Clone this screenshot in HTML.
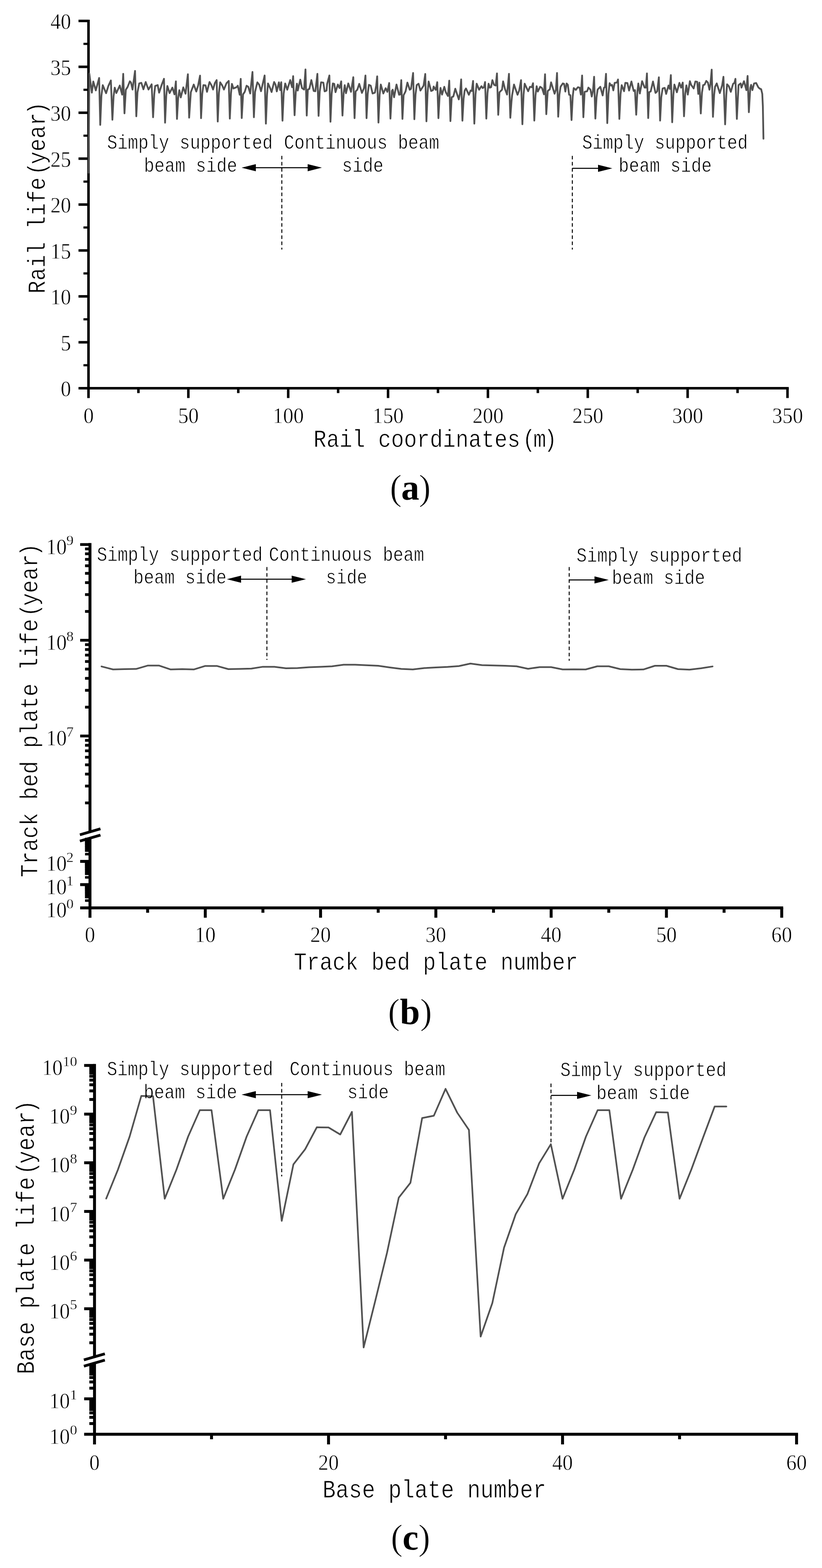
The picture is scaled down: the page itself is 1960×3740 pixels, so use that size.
<!DOCTYPE html>
<html lang="en">
<head>
<meta charset="utf-8">
<title>Fatigue life of rail, track bed plate and base plate</title>
<style>
html,body{margin:0;padding:0;background:#fff;}
body{width:1960px;height:3740px;overflow:hidden;}
svg{display:block;}
svg text{font-family:'Liberation Mono','DejaVu Sans Mono',monospace;fill:#000;stroke:#fff;stroke-width:1px;mix-blend-mode:multiply;}
svg text.n{font-family:'Liberation Serif','DejaVu Serif',serif;stroke-width:0.8px;}
svg text.s{stroke-width:0.4px;}
svg text.cap{stroke:#fff;stroke-width:1.2px;font-family:'Liberation Serif','DejaVu Serif',serif;}
svg text.cap .b{font-weight:bold;stroke:none;}
</style>
</head>
<body>
<svg width="1960" height="3740" viewBox="0 0 1960 3740">
<rect width="1960" height="3740" fill="#fff"/>
<g id="chart-a">
<line x1="211" y1="46.9" x2="211" y2="949.4" stroke="#000" stroke-width="6"/>
<line x1="187.2" y1="925.9" x2="1880.7" y2="925.9" stroke="#000" stroke-width="6"/>
<line x1="199" y1="871.15" x2="211" y2="871.15" stroke="#000" stroke-width="5.2"/>
<line x1="187.2" y1="816.4" x2="211" y2="816.4" stroke="#000" stroke-width="6"/>
<line x1="199" y1="761.65" x2="211" y2="761.65" stroke="#000" stroke-width="5.2"/>
<line x1="187.2" y1="706.9" x2="211" y2="706.9" stroke="#000" stroke-width="6"/>
<line x1="199" y1="652.15" x2="211" y2="652.15" stroke="#000" stroke-width="5.2"/>
<line x1="187.2" y1="597.4" x2="211" y2="597.4" stroke="#000" stroke-width="6"/>
<line x1="199" y1="542.65" x2="211" y2="542.65" stroke="#000" stroke-width="5.2"/>
<line x1="187.2" y1="487.9" x2="211" y2="487.9" stroke="#000" stroke-width="6"/>
<line x1="199" y1="433.15" x2="211" y2="433.15" stroke="#000" stroke-width="5.2"/>
<line x1="187.2" y1="378.4" x2="211" y2="378.4" stroke="#000" stroke-width="6"/>
<line x1="199" y1="323.65" x2="211" y2="323.65" stroke="#000" stroke-width="5.2"/>
<line x1="187.2" y1="268.9" x2="211" y2="268.9" stroke="#000" stroke-width="6"/>
<line x1="199" y1="214.15" x2="211" y2="214.15" stroke="#000" stroke-width="5.2"/>
<line x1="187.2" y1="159.4" x2="211" y2="159.4" stroke="#000" stroke-width="6"/>
<line x1="199" y1="104.65" x2="211" y2="104.65" stroke="#000" stroke-width="5.2"/>
<line x1="187.2" y1="49.9" x2="211" y2="49.9" stroke="#000" stroke-width="6"/>
<line x1="330.05" y1="925.9" x2="330.05" y2="937.6" stroke="#000" stroke-width="6"/>
<line x1="449.1" y1="925.9" x2="449.1" y2="949.4" stroke="#000" stroke-width="6"/>
<line x1="568.15" y1="925.9" x2="568.15" y2="937.6" stroke="#000" stroke-width="6"/>
<line x1="687.2" y1="925.9" x2="687.2" y2="949.4" stroke="#000" stroke-width="6"/>
<line x1="806.25" y1="925.9" x2="806.25" y2="937.6" stroke="#000" stroke-width="6"/>
<line x1="925.3" y1="925.9" x2="925.3" y2="949.4" stroke="#000" stroke-width="6"/>
<line x1="1044.35" y1="925.9" x2="1044.35" y2="937.6" stroke="#000" stroke-width="6"/>
<line x1="1163.4" y1="925.9" x2="1163.4" y2="949.4" stroke="#000" stroke-width="6"/>
<line x1="1282.45" y1="925.9" x2="1282.45" y2="937.6" stroke="#000" stroke-width="6"/>
<line x1="1401.5" y1="925.9" x2="1401.5" y2="949.4" stroke="#000" stroke-width="6"/>
<line x1="1520.55" y1="925.9" x2="1520.55" y2="937.6" stroke="#000" stroke-width="6"/>
<line x1="1639.6" y1="925.9" x2="1639.6" y2="949.4" stroke="#000" stroke-width="6"/>
<line x1="1758.65" y1="925.9" x2="1758.65" y2="937.6" stroke="#000" stroke-width="6"/>
<line x1="1877.7" y1="925.9" x2="1877.7" y2="949.4" stroke="#000" stroke-width="6"/>
<text class="n" transform="translate(169.5 945.1) scale(0.93 1)" font-size="53" text-anchor="end">0</text>
<text class="n" transform="translate(169.5 835.6) scale(0.93 1)" font-size="53" text-anchor="end">5</text>
<text class="n" transform="translate(169.5 726.1) scale(0.93 1)" font-size="53" text-anchor="end">10</text>
<text class="n" transform="translate(169.5 616.6) scale(0.93 1)" font-size="53" text-anchor="end">15</text>
<text class="n" transform="translate(169.5 507.1) scale(0.93 1)" font-size="53" text-anchor="end">20</text>
<text class="n" transform="translate(169.5 397.6) scale(0.93 1)" font-size="53" text-anchor="end">25</text>
<text class="n" transform="translate(169.5 288.1) scale(0.93 1)" font-size="53" text-anchor="end">30</text>
<text class="n" transform="translate(169.5 178.6) scale(0.93 1)" font-size="53" text-anchor="end">35</text>
<text class="n" transform="translate(169.5 69.1) scale(0.93 1)" font-size="53" text-anchor="end">40</text>
<text class="n" transform="translate(211.2 1009.4) scale(0.93 1)" font-size="53" text-anchor="middle">0</text>
<text class="n" transform="translate(449.3 1009.4) scale(0.93 1)" font-size="53" text-anchor="middle">50</text>
<text class="n" transform="translate(687.4 1009.4) scale(0.93 1)" font-size="53" text-anchor="middle">100</text>
<text class="n" transform="translate(925.5 1009.4) scale(0.93 1)" font-size="53" text-anchor="middle">150</text>
<text class="n" transform="translate(1163.6 1009.4) scale(0.93 1)" font-size="53" text-anchor="middle">200</text>
<text class="n" transform="translate(1401.7 1009.4) scale(0.93 1)" font-size="53" text-anchor="middle">250</text>
<text class="n" transform="translate(1639.8 1009.4) scale(0.93 1)" font-size="53" text-anchor="middle">300</text>
<text class="n" transform="translate(1877.9 1009.4) scale(0.93 1)" font-size="53" text-anchor="middle">350</text>
<text transform="translate(747.6 1066.4) scale(0.8556 1)" font-size="60" dx="0 0 0 0 0 0 0 0 0 0 0 0 0 0 0 0 6.08 -6.08 -5.84">Rail coordinates(m)</text>
<text transform="translate(107 700.2) rotate(-90) scale(0.8556 1)" font-size="60" dx="0 0 0 0 0 0 0 0 0 6.08 -6.08 0 0 0 -5.84">Rail life(year)</text>
<polyline points="211.3,412 213,175.6 219,221 222.4,194.4 228.4,215.6 236.4,186 239,298 241.8,228.7 245,203 253,222.4 258.4,205 264.4,192 268,285.6 270.8,229.7 273.6,209 277.4,222 285.6,204 291.2,225.6 293.8,176 296.8,270.4 300,214 304,208 309.6,194 312.4,197 316,213.6 322,169 325,277.4 327.8,220.2 332,199 337,197.6 342,213 347.4,195.6 354,213.6 361.6,201 365,279.6 367.8,225.1 370,205 376,203 379.4,221 386,201 391,188 393.6,292.6 396.4,228.7 399,205 404.4,222 411,209 416,225 419.4,194 422,283.6 424.8,233.5 427.6,215 431,232.4 437,208.4 442.4,223.6 448,177 451,280.6 455,220 462,201.6 468,218.4 472.4,204 477,180.4 479.4,282 482.2,224.3 485,203 490,203.6 493.6,219 499.6,195.6 504,203 508,213.6 512.4,198 516.6,191 519.2,290 522,221.7 525,196.4 530,204 534,213.6 540,198.4 545.4,193 548,283 550.8,222.4 553,200 556.6,211 564,208 567,204.4 571.6,226 574,188 576.4,281.6 579.6,225 583.6,219 588,204.4 592,207 596.6,223 602,171.6 605.4,279.6 608.2,218.9 613.6,196.4 618,202 622.4,217.6 631,180 634,295 636.8,224.9 639,199 643.6,209 647.6,219.6 653.6,195.6 657,202 660,218 665,196.4 668,215 670.6,196 673.6,288 676.4,223 680,199 685,214 692,191 696.4,208 699,181.6 702.4,275 705.2,220 708,199.6 710,216 716,190 720,210 725,213.6 728.4,165.6 731.4,275.6 734,213.6 737.6,212 742.4,191 748,217 752,217.6 756.8,176 759.6,276.4 762.4,218 765.6,196.4 771,197 774,218 778.6,216 780,200.4 785.4,180 788,290.4 790.8,223.7 793.6,199 797,200 800,220 805.6,201.6 809.6,210 813.6,194 816.6,275.6 819.4,222.6 822,203 825,222.4 830.4,199 837,219 842.4,184 845.4,282 848,218 852,214 856.6,200 863,221.6 868,210 871.4,180 874,282 876.8,223.9 879.6,202.4 884,204.4 888.4,223 894,221 897,204 899.4,182 902.4,292.4 905.2,226.1 908,201.6 914,223 919.6,210.4 923.6,219 928,198 931,283 934.4,217 936.4,214 939.6,232 945.4,201.6 951.6,226 954.4,225 956.8,191 959.6,283.6 962.4,227 967,218 971.4,197 977,214 980,212 985,174 988,284.4 990.8,225 993.6,203 998,199.6 1002.4,216 1010,204.4 1014,176.4 1016.8,289.4 1019.6,220.1 1022,194.4 1028,217 1032.4,215 1034,206.4 1039,214.4 1042.6,196 1045.4,282 1048.2,229.1 1050.4,209.6 1054,225.6 1059.4,207 1063,220 1068,229 1071.2,192.4 1074,289 1077,232 1081,230 1085.6,211.6 1094,237 1097,222 1099.6,189.4 1102.6,288 1105.4,235.4 1108,216 1111,211 1118,226 1122,216 1125,217 1128,193 1131,295 1133.8,225.4 1136.6,199.6 1142.4,214 1148,205.6 1151,210 1154,208 1156.6,195.6 1159.6,283 1162.4,222.1 1165,199.6 1168,209 1171,208 1174,191 1178,202.4 1182,204 1185,175 1188,274 1191,220 1197,214 1199.6,194 1204,212 1209,225.6 1213.6,176 1216.8,281 1219.6,242.3 1221,228 1225.6,201.6 1234,226 1238,216 1242.4,191 1245.6,296.4 1248.4,225.7 1251,199.6 1259.4,217.6 1263.6,207 1268,208 1271,198.4 1274,287.6 1276.8,227.7 1279.6,205.6 1282.4,218.4 1288,207 1292.4,210 1297,225 1299.6,177 1302.6,272.4 1306,217 1311,213 1314,196.4 1322.4,223.6 1325.6,213.6 1328.2,174 1331,278.4 1333.8,226.3 1336.6,207 1342,199 1345,200 1348,218.4 1351,199 1354,202.4 1357,226 1360,227 1362.8,286.4 1365.6,230.6 1368,210 1373,214.4 1378,208 1382,209 1385,225.6 1388,180 1391,279.6 1394,219 1400,217.6 1403,209 1408,214 1411,230.4 1414,216 1416.6,183 1419.6,283 1422.4,232.3 1425,213.6 1431.4,207 1437,227.6 1440,209.6 1442.4,208 1445,176 1448,293.6 1450.8,224.1 1453.6,198.4 1457,204 1459.4,202.4 1462.4,215.6 1465.6,197.6 1471,197 1473.6,189.6 1476.8,283.6 1479.6,224.8 1482.4,203 1488,217.6 1491,197.6 1496,198 1500,216 1505.6,194.4 1511,217 1514,215 1517,273.6 1519.8,219.1 1522,199 1525.6,223 1531,193.6 1537,209 1540,209 1542.6,175 1545.6,281.6 1548,219.6 1551.6,218 1557,194.4 1563,221.6 1567,218 1571,184.4 1574,287.6 1576.8,231.7 1580,211 1585,209.6 1588.4,224 1594,204 1597,212 1599.6,179 1602.8,291.6 1605.6,225.9 1608,201.6 1614,220 1620,197.6 1624,209 1628,197 1631,277.4 1633.8,223.5 1636.6,203.6 1640,225.6 1645,193.6 1648,202.4 1654,211 1658,194.4 1662.4,195 1665,224 1667.6,197 1671,270.6 1673.8,221.3 1676.6,203 1680,202 1684,193 1688,197 1691.6,214 1694,200 1697,166 1700,278.6 1702.8,226.3 1705,207 1709,199 1716.4,222 1722,203 1725,183 1729,296.6 1731.8,226.8 1733.6,201 1738,206 1742.6,219 1748,200 1751,198 1753.6,188 1757,283.6 1761,203 1766,199 1768,209 1774,193.6 1779.6,215 1782.6,181 1785.6,267.6 1789,210 1791,202.4 1794,215 1798,199 1803,198 1808,208 1811,211 1815,213 1817.6,224 1819,254 1820.4,331" fill="none" stroke="#515151" stroke-width="4.2" stroke-linejoin="round" stroke-linecap="round"/>
<text transform="translate(255.3 354.8) scale(0.8576 1)" font-size="48">Simply supported</text>
<text transform="translate(343.3 409.5) scale(0.8576 1)" font-size="48">beam side</text>
<text transform="translate(677 354.8) scale(0.8576 1)" font-size="48">Continuous beam</text>
<text transform="translate(815.6 409.5) scale(0.8576 1)" font-size="48">side</text>
<text transform="translate(1388 354.5) scale(0.8576 1)" font-size="48">Simply supported</text>
<text transform="translate(1475 409.6) scale(0.8576 1)" font-size="48">beam side</text>
<line x1="672" y1="371.7" x2="672" y2="595.2" stroke="#000" stroke-width="2.3" stroke-dasharray="8.5 6.1"/>
<line x1="1364.7" y1="371.7" x2="1364.7" y2="595.2" stroke="#000" stroke-width="2.3" stroke-dasharray="8.5 6.1"/>
<line x1="595" y1="399.9" x2="750" y2="399.9" stroke="#000" stroke-width="2.5"/>
<polygon points="576,399.9 610,391.4 610,408.4" fill="#000"/>
<polygon points="767.6,399.9 733.6,391.4 733.6,408.4" fill="#000"/>
<line x1="1364.7" y1="401.4" x2="1445" y2="401.4" stroke="#000" stroke-width="2.5"/>
<polygon points="1460,401.4 1426,392.9 1426,409.9" fill="#000"/>
</g>
<text class="cap" x="929.5" y="1191.6" font-size="86" letter-spacing="-1.3">(<tspan class="b">a</tspan>)</text>
<g id="chart-b">
<line x1="214.55" y1="1295.3" x2="214.55" y2="1985.85" stroke="#000" stroke-width="7"/>
<line x1="214.55" y1="1997.2" x2="214.55" y2="2188.9" stroke="#000" stroke-width="7"/>
<line x1="191.15" y1="2165.4" x2="1867.45" y2="2165.4" stroke="#000" stroke-width="7"/>
<line x1="191.15" y1="1298.8" x2="214.55" y2="1298.8" stroke="#000" stroke-width="6.6"/>
<line x1="191.15" y1="1527.15" x2="214.55" y2="1527.15" stroke="#000" stroke-width="6.6"/>
<line x1="191.15" y1="1755.5" x2="214.55" y2="1755.5" stroke="#000" stroke-width="6.6"/>
<line x1="202.75" y1="1458.41" x2="214.55" y2="1458.41" stroke="#000" stroke-width="6.6"/>
<line x1="202.75" y1="1418.2" x2="214.55" y2="1418.2" stroke="#000" stroke-width="6.6"/>
<line x1="202.75" y1="1389.67" x2="214.55" y2="1389.67" stroke="#000" stroke-width="6.6"/>
<line x1="202.75" y1="1367.54" x2="214.55" y2="1367.54" stroke="#000" stroke-width="6.6"/>
<line x1="202.75" y1="1349.46" x2="214.55" y2="1349.46" stroke="#000" stroke-width="6.6"/>
<line x1="202.75" y1="1334.17" x2="214.55" y2="1334.17" stroke="#000" stroke-width="6.6"/>
<line x1="202.75" y1="1320.93" x2="214.55" y2="1320.93" stroke="#000" stroke-width="6.6"/>
<line x1="202.75" y1="1309.25" x2="214.55" y2="1309.25" stroke="#000" stroke-width="6.6"/>
<line x1="202.75" y1="1686.76" x2="214.55" y2="1686.76" stroke="#000" stroke-width="6.6"/>
<line x1="202.75" y1="1646.55" x2="214.55" y2="1646.55" stroke="#000" stroke-width="6.6"/>
<line x1="202.75" y1="1618.02" x2="214.55" y2="1618.02" stroke="#000" stroke-width="6.6"/>
<line x1="202.75" y1="1595.89" x2="214.55" y2="1595.89" stroke="#000" stroke-width="6.6"/>
<line x1="202.75" y1="1577.81" x2="214.55" y2="1577.81" stroke="#000" stroke-width="6.6"/>
<line x1="202.75" y1="1562.52" x2="214.55" y2="1562.52" stroke="#000" stroke-width="6.6"/>
<line x1="202.75" y1="1549.28" x2="214.55" y2="1549.28" stroke="#000" stroke-width="6.6"/>
<line x1="202.75" y1="1537.6" x2="214.55" y2="1537.6" stroke="#000" stroke-width="6.6"/>
<line x1="202.75" y1="1915.11" x2="214.55" y2="1915.11" stroke="#000" stroke-width="6.6"/>
<line x1="202.75" y1="1874.9" x2="214.55" y2="1874.9" stroke="#000" stroke-width="6.6"/>
<line x1="202.75" y1="1846.37" x2="214.55" y2="1846.37" stroke="#000" stroke-width="6.6"/>
<line x1="202.75" y1="1824.24" x2="214.55" y2="1824.24" stroke="#000" stroke-width="6.6"/>
<line x1="202.75" y1="1806.16" x2="214.55" y2="1806.16" stroke="#000" stroke-width="6.6"/>
<line x1="202.75" y1="1790.87" x2="214.55" y2="1790.87" stroke="#000" stroke-width="6.6"/>
<line x1="202.75" y1="1777.63" x2="214.55" y2="1777.63" stroke="#000" stroke-width="6.6"/>
<line x1="202.75" y1="1765.95" x2="214.55" y2="1765.95" stroke="#000" stroke-width="6.6"/>
<line x1="191.15" y1="2054.6" x2="214.55" y2="2054.6" stroke="#000" stroke-width="7"/>
<line x1="191.15" y1="2110" x2="214.55" y2="2110" stroke="#000" stroke-width="7"/>
<line x1="202.75" y1="2037.32" x2="214.55" y2="2037.32" stroke="#000" stroke-width="6"/>
<line x1="202.75" y1="2028.17" x2="214.55" y2="2028.17" stroke="#000" stroke-width="7"/>
<line x1="202.75" y1="2021.25" x2="214.55" y2="2021.25" stroke="#000" stroke-width="7"/>
<line x1="202.75" y1="2015.88" x2="214.55" y2="2015.88" stroke="#000" stroke-width="7"/>
<line x1="202.75" y1="2011.49" x2="214.55" y2="2011.49" stroke="#000" stroke-width="7"/>
<line x1="202.75" y1="2007.78" x2="214.55" y2="2007.78" stroke="#000" stroke-width="7"/>
<line x1="202.75" y1="2004.57" x2="214.55" y2="2004.57" stroke="#000" stroke-width="7"/>
<line x1="202.75" y1="2001.73" x2="214.55" y2="2001.73" stroke="#000" stroke-width="7"/>
<line x1="202.75" y1="2092.72" x2="214.55" y2="2092.72" stroke="#000" stroke-width="6"/>
<line x1="202.75" y1="2083.57" x2="214.55" y2="2083.57" stroke="#000" stroke-width="7"/>
<line x1="202.75" y1="2076.65" x2="214.55" y2="2076.65" stroke="#000" stroke-width="7"/>
<line x1="202.75" y1="2071.28" x2="214.55" y2="2071.28" stroke="#000" stroke-width="7"/>
<line x1="202.75" y1="2066.89" x2="214.55" y2="2066.89" stroke="#000" stroke-width="7"/>
<line x1="202.75" y1="2063.18" x2="214.55" y2="2063.18" stroke="#000" stroke-width="7"/>
<line x1="202.75" y1="2059.97" x2="214.55" y2="2059.97" stroke="#000" stroke-width="7"/>
<line x1="202.75" y1="2057.13" x2="214.55" y2="2057.13" stroke="#000" stroke-width="7"/>
<line x1="202.75" y1="2148.12" x2="214.55" y2="2148.12" stroke="#000" stroke-width="6"/>
<line x1="202.75" y1="2138.97" x2="214.55" y2="2138.97" stroke="#000" stroke-width="7"/>
<line x1="202.75" y1="2132.05" x2="214.55" y2="2132.05" stroke="#000" stroke-width="7"/>
<line x1="202.75" y1="2126.68" x2="214.55" y2="2126.68" stroke="#000" stroke-width="7"/>
<line x1="202.75" y1="2122.29" x2="214.55" y2="2122.29" stroke="#000" stroke-width="7"/>
<line x1="202.75" y1="2118.58" x2="214.55" y2="2118.58" stroke="#000" stroke-width="7"/>
<line x1="202.75" y1="2115.37" x2="214.55" y2="2115.37" stroke="#000" stroke-width="7"/>
<line x1="202.75" y1="2112.53" x2="214.55" y2="2112.53" stroke="#000" stroke-width="7"/>
<rect x="202.75" y="1999.2" width="11.8" height="32.47" fill="#000"/>
<rect x="202.75" y="2054.6" width="11.8" height="32.47" fill="#000"/>
<rect x="202.75" y="2110" width="11.8" height="32.47" fill="#000"/>
<line x1="190.5" y1="1991.2" x2="239.5" y2="1976.8" stroke="#000" stroke-width="6.6"/>
<line x1="190.5" y1="2006.2" x2="239.5" y2="1991.8" stroke="#000" stroke-width="6.6"/>
<line x1="352" y1="2165.4" x2="352" y2="2177.1" stroke="#000" stroke-width="7"/>
<line x1="489.45" y1="2165.4" x2="489.45" y2="2188.9" stroke="#000" stroke-width="7"/>
<line x1="626.9" y1="2165.4" x2="626.9" y2="2177.1" stroke="#000" stroke-width="7"/>
<line x1="764.35" y1="2165.4" x2="764.35" y2="2188.9" stroke="#000" stroke-width="7"/>
<line x1="901.8" y1="2165.4" x2="901.8" y2="2177.1" stroke="#000" stroke-width="7"/>
<line x1="1039.25" y1="2165.4" x2="1039.25" y2="2188.9" stroke="#000" stroke-width="7"/>
<line x1="1176.7" y1="2165.4" x2="1176.7" y2="2177.1" stroke="#000" stroke-width="7"/>
<line x1="1314.15" y1="2165.4" x2="1314.15" y2="2188.9" stroke="#000" stroke-width="7"/>
<line x1="1451.6" y1="2165.4" x2="1451.6" y2="2177.1" stroke="#000" stroke-width="7"/>
<line x1="1589.05" y1="2165.4" x2="1589.05" y2="2188.9" stroke="#000" stroke-width="7"/>
<line x1="1726.5" y1="2165.4" x2="1726.5" y2="2177.1" stroke="#000" stroke-width="7"/>
<line x1="1863.95" y1="2165.4" x2="1863.95" y2="2188.9" stroke="#000" stroke-width="7"/>
<text class="n" transform="translate(214.55 2247.2) scale(0.93 1)" font-size="53" text-anchor="middle">0</text>
<text class="n" transform="translate(489.45 2247.2) scale(0.93 1)" font-size="53" text-anchor="middle">10</text>
<text class="n" transform="translate(764.35 2247.2) scale(0.93 1)" font-size="53" text-anchor="middle">20</text>
<text class="n" transform="translate(1039.25 2247.2) scale(0.93 1)" font-size="53" text-anchor="middle">30</text>
<text class="n" transform="translate(1314.15 2247.2) scale(0.93 1)" font-size="53" text-anchor="middle">40</text>
<text class="n" transform="translate(1589.05 2247.2) scale(0.93 1)" font-size="53" text-anchor="middle">50</text>
<text class="n" transform="translate(1863.95 2247.2) scale(0.93 1)" font-size="53" text-anchor="middle">60</text>
<text class="n" transform="translate(159.25 1321.6) scale(0.93 1)" font-size="53" text-anchor="end">10</text>
<text class="n s" transform="translate(158.25 1300.3) scale(1 1)" font-size="34.5">9</text>
<text class="n" transform="translate(159.25 1549.95) scale(0.93 1)" font-size="53" text-anchor="end">10</text>
<text class="n s" transform="translate(158.25 1528.65) scale(1 1)" font-size="34.5">8</text>
<text class="n" transform="translate(159.25 1778.3) scale(0.93 1)" font-size="53" text-anchor="end">10</text>
<text class="n s" transform="translate(158.25 1757) scale(1 1)" font-size="34.5">7</text>
<text class="n" transform="translate(159.25 2077.4) scale(0.93 1)" font-size="53" text-anchor="end">10</text>
<text class="n s" transform="translate(158.25 2056.1) scale(1 1)" font-size="34.5">2</text>
<text class="n" transform="translate(159.25 2132.8) scale(0.93 1)" font-size="53" text-anchor="end">10</text>
<text class="n s" transform="translate(158.25 2111.5) scale(1 1)" font-size="34.5">1</text>
<text class="n" transform="translate(159.25 2188.2) scale(0.93 1)" font-size="53" text-anchor="end">10</text>
<text class="n s" transform="translate(158.25 2166.9) scale(1 1)" font-size="34.5">0</text>
<text transform="translate(700.6 2313.2) scale(0.8556 1)" font-size="60">Track bed plate number</text>
<text transform="translate(88.7 2092.4) rotate(-90) scale(0.8556 1)" font-size="60" dx="0 0 0 0 0 0 0 0 0 0 0 0 0 0 0 0 0 0 0 0 6.08 -6.08 0 0 0 -5.84">Track bed plate life(year)</text>
<polyline points="242.04,1589.6 269.53,1596.8 297.02,1596 324.51,1595.6 352,1587.6 379.49,1587.6 406.98,1596.8 434.47,1596 461.96,1596.8 489.45,1588.4 516.94,1588.4 544.43,1596 571.92,1595.6 599.41,1594.8 626.9,1590.4 654.39,1590.4 681.88,1594 709.37,1593.6 736.86,1591.6 764.35,1590.4 791.84,1589.2 819.33,1585.6 846.82,1585.6 874.31,1586.8 901.8,1588 929.29,1592 956.78,1595.6 984.27,1596.8 1011.76,1593.6 1039.25,1592 1066.74,1590.8 1094.23,1588.8 1121.72,1582.8 1149.21,1586.4 1176.7,1587.2 1204.19,1588 1231.68,1589.2 1259.17,1595.2 1286.66,1591.2 1314.15,1591.2 1341.64,1596.8 1369.13,1596.4 1396.62,1596.8 1424.11,1589.2 1451.6,1589.2 1479.09,1596 1506.58,1597.2 1534.07,1596.8 1561.56,1588 1589.05,1588 1616.54,1596 1644.03,1597.2 1671.52,1594 1699.01,1589.6" fill="none" stroke="#515151" stroke-width="4" stroke-linejoin="round" stroke-linecap="round"/>
<text transform="translate(231 1338) scale(0.8576 1)" font-size="48">Simply supported</text>
<text transform="translate(318 1391.6) scale(0.8576 1)" font-size="48">beam side</text>
<text transform="translate(641 1338) scale(0.8576 1)" font-size="48">Continuous beam</text>
<text transform="translate(777 1391.6) scale(0.8576 1)" font-size="48">side</text>
<text transform="translate(1374.5 1339.5) scale(0.8576 1)" font-size="48">Simply supported</text>
<text transform="translate(1459 1393.2) scale(0.8576 1)" font-size="48">beam side</text>
<line x1="636.4" y1="1352.5" x2="636.4" y2="1574" stroke="#000" stroke-width="2.3" stroke-dasharray="8.5 6.1"/>
<line x1="1357.2" y1="1352.5" x2="1357.2" y2="1576" stroke="#000" stroke-width="2.3" stroke-dasharray="8.5 6.1"/>
<line x1="560" y1="1381.6" x2="710" y2="1381.6" stroke="#000" stroke-width="2.5"/>
<polygon points="540.8,1381.6 574.8,1373.1 574.8,1390.1" fill="#000"/>
<polygon points="729.5,1381.6 695.5,1373.1 695.5,1390.1" fill="#000"/>
<line x1="1357.2" y1="1383.3" x2="1440" y2="1383.3" stroke="#000" stroke-width="2.5"/>
<polygon points="1451.5,1383.3 1417.5,1374.8 1417.5,1391.8" fill="#000"/>
</g>
<text class="cap" x="924.9" y="2441.6" font-size="86" letter-spacing="0">(<tspan class="b">b</tspan>)</text>
<g id="chart-c">
<line x1="225.35" y1="2537.8" x2="225.35" y2="3238.72" stroke="#000" stroke-width="7"/>
<line x1="225.35" y1="3251.1" x2="225.35" y2="3445.2" stroke="#000" stroke-width="7"/>
<line x1="200.65" y1="3420.9" x2="1902.85" y2="3420.9" stroke="#000" stroke-width="7"/>
<line x1="200.65" y1="2541.3" x2="225.35" y2="2541.3" stroke="#000" stroke-width="6.9"/>
<line x1="200.65" y1="2657.37" x2="225.35" y2="2657.37" stroke="#000" stroke-width="6.9"/>
<line x1="200.65" y1="2773.44" x2="225.35" y2="2773.44" stroke="#000" stroke-width="6.9"/>
<line x1="200.65" y1="2889.51" x2="225.35" y2="2889.51" stroke="#000" stroke-width="6.9"/>
<line x1="200.65" y1="3005.58" x2="225.35" y2="3005.58" stroke="#000" stroke-width="6.9"/>
<line x1="200.65" y1="3121.65" x2="225.35" y2="3121.65" stroke="#000" stroke-width="6.9"/>
<line x1="213.05" y1="2622.43" x2="225.35" y2="2622.43" stroke="#000" stroke-width="6.9"/>
<line x1="213.05" y1="2601.99" x2="225.35" y2="2601.99" stroke="#000" stroke-width="6.9"/>
<line x1="213.05" y1="2587.49" x2="225.35" y2="2587.49" stroke="#000" stroke-width="6.9"/>
<line x1="213.05" y1="2576.24" x2="225.35" y2="2576.24" stroke="#000" stroke-width="6.9"/>
<line x1="213.05" y1="2567.05" x2="225.35" y2="2567.05" stroke="#000" stroke-width="6.9"/>
<line x1="213.05" y1="2559.28" x2="225.35" y2="2559.28" stroke="#000" stroke-width="6.9"/>
<line x1="213.05" y1="2552.55" x2="225.35" y2="2552.55" stroke="#000" stroke-width="6.9"/>
<line x1="213.05" y1="2546.61" x2="225.35" y2="2546.61" stroke="#000" stroke-width="6.9"/>
<line x1="213.05" y1="2738.5" x2="225.35" y2="2738.5" stroke="#000" stroke-width="6.9"/>
<line x1="213.05" y1="2718.06" x2="225.35" y2="2718.06" stroke="#000" stroke-width="6.9"/>
<line x1="213.05" y1="2703.56" x2="225.35" y2="2703.56" stroke="#000" stroke-width="6.9"/>
<line x1="213.05" y1="2692.31" x2="225.35" y2="2692.31" stroke="#000" stroke-width="6.9"/>
<line x1="213.05" y1="2683.12" x2="225.35" y2="2683.12" stroke="#000" stroke-width="6.9"/>
<line x1="213.05" y1="2675.35" x2="225.35" y2="2675.35" stroke="#000" stroke-width="6.9"/>
<line x1="213.05" y1="2668.62" x2="225.35" y2="2668.62" stroke="#000" stroke-width="6.9"/>
<line x1="213.05" y1="2662.68" x2="225.35" y2="2662.68" stroke="#000" stroke-width="6.9"/>
<line x1="213.05" y1="2854.57" x2="225.35" y2="2854.57" stroke="#000" stroke-width="6.9"/>
<line x1="213.05" y1="2834.13" x2="225.35" y2="2834.13" stroke="#000" stroke-width="6.9"/>
<line x1="213.05" y1="2819.63" x2="225.35" y2="2819.63" stroke="#000" stroke-width="6.9"/>
<line x1="213.05" y1="2808.38" x2="225.35" y2="2808.38" stroke="#000" stroke-width="6.9"/>
<line x1="213.05" y1="2799.19" x2="225.35" y2="2799.19" stroke="#000" stroke-width="6.9"/>
<line x1="213.05" y1="2791.42" x2="225.35" y2="2791.42" stroke="#000" stroke-width="6.9"/>
<line x1="213.05" y1="2784.69" x2="225.35" y2="2784.69" stroke="#000" stroke-width="6.9"/>
<line x1="213.05" y1="2778.75" x2="225.35" y2="2778.75" stroke="#000" stroke-width="6.9"/>
<line x1="213.05" y1="2970.64" x2="225.35" y2="2970.64" stroke="#000" stroke-width="6.9"/>
<line x1="213.05" y1="2950.2" x2="225.35" y2="2950.2" stroke="#000" stroke-width="6.9"/>
<line x1="213.05" y1="2935.7" x2="225.35" y2="2935.7" stroke="#000" stroke-width="6.9"/>
<line x1="213.05" y1="2924.45" x2="225.35" y2="2924.45" stroke="#000" stroke-width="6.9"/>
<line x1="213.05" y1="2915.26" x2="225.35" y2="2915.26" stroke="#000" stroke-width="6.9"/>
<line x1="213.05" y1="2907.49" x2="225.35" y2="2907.49" stroke="#000" stroke-width="6.9"/>
<line x1="213.05" y1="2900.76" x2="225.35" y2="2900.76" stroke="#000" stroke-width="6.9"/>
<line x1="213.05" y1="2894.82" x2="225.35" y2="2894.82" stroke="#000" stroke-width="6.9"/>
<line x1="213.05" y1="3086.71" x2="225.35" y2="3086.71" stroke="#000" stroke-width="6.9"/>
<line x1="213.05" y1="3066.27" x2="225.35" y2="3066.27" stroke="#000" stroke-width="6.9"/>
<line x1="213.05" y1="3051.77" x2="225.35" y2="3051.77" stroke="#000" stroke-width="6.9"/>
<line x1="213.05" y1="3040.52" x2="225.35" y2="3040.52" stroke="#000" stroke-width="6.9"/>
<line x1="213.05" y1="3031.33" x2="225.35" y2="3031.33" stroke="#000" stroke-width="6.9"/>
<line x1="213.05" y1="3023.56" x2="225.35" y2="3023.56" stroke="#000" stroke-width="6.9"/>
<line x1="213.05" y1="3016.83" x2="225.35" y2="3016.83" stroke="#000" stroke-width="6.9"/>
<line x1="213.05" y1="3010.89" x2="225.35" y2="3010.89" stroke="#000" stroke-width="6.9"/>
<line x1="213.05" y1="3202.78" x2="225.35" y2="3202.78" stroke="#000" stroke-width="6.9"/>
<line x1="213.05" y1="3182.34" x2="225.35" y2="3182.34" stroke="#000" stroke-width="6.9"/>
<line x1="213.05" y1="3167.84" x2="225.35" y2="3167.84" stroke="#000" stroke-width="6.9"/>
<line x1="213.05" y1="3156.59" x2="225.35" y2="3156.59" stroke="#000" stroke-width="6.9"/>
<line x1="213.05" y1="3147.4" x2="225.35" y2="3147.4" stroke="#000" stroke-width="6.9"/>
<line x1="213.05" y1="3139.63" x2="225.35" y2="3139.63" stroke="#000" stroke-width="6.9"/>
<line x1="213.05" y1="3132.9" x2="225.35" y2="3132.9" stroke="#000" stroke-width="6.9"/>
<line x1="213.05" y1="3126.96" x2="225.35" y2="3126.96" stroke="#000" stroke-width="6.9"/>
<line x1="200.65" y1="3336.5" x2="225.35" y2="3336.5" stroke="#000" stroke-width="6.9"/>
<line x1="213.05" y1="3311.09" x2="225.35" y2="3311.09" stroke="#000" stroke-width="6.9"/>
<line x1="213.05" y1="3296.23" x2="225.35" y2="3296.23" stroke="#000" stroke-width="6.9"/>
<line x1="213.05" y1="3285.69" x2="225.35" y2="3285.69" stroke="#000" stroke-width="6.9"/>
<line x1="213.05" y1="3277.51" x2="225.35" y2="3277.51" stroke="#000" stroke-width="6.9"/>
<line x1="213.05" y1="3270.82" x2="225.35" y2="3270.82" stroke="#000" stroke-width="6.9"/>
<line x1="213.05" y1="3265.17" x2="225.35" y2="3265.17" stroke="#000" stroke-width="6.9"/>
<line x1="213.05" y1="3260.28" x2="225.35" y2="3260.28" stroke="#000" stroke-width="6.9"/>
<line x1="213.05" y1="3255.96" x2="225.35" y2="3255.96" stroke="#000" stroke-width="6.9"/>
<line x1="213.05" y1="3395.49" x2="225.35" y2="3395.49" stroke="#000" stroke-width="6.9"/>
<line x1="213.05" y1="3380.63" x2="225.35" y2="3380.63" stroke="#000" stroke-width="6.9"/>
<line x1="213.05" y1="3370.09" x2="225.35" y2="3370.09" stroke="#000" stroke-width="6.9"/>
<line x1="213.05" y1="3361.91" x2="225.35" y2="3361.91" stroke="#000" stroke-width="6.9"/>
<line x1="213.05" y1="3355.22" x2="225.35" y2="3355.22" stroke="#000" stroke-width="6.9"/>
<line x1="213.05" y1="3349.57" x2="225.35" y2="3349.57" stroke="#000" stroke-width="6.9"/>
<line x1="213.05" y1="3344.68" x2="225.35" y2="3344.68" stroke="#000" stroke-width="6.9"/>
<line x1="213.05" y1="3340.36" x2="225.35" y2="3340.36" stroke="#000" stroke-width="6.9"/>
<rect x="213.05" y="3252.1" width="12.3" height="28.81" fill="#000"/>
<rect x="213.05" y="3336.5" width="12.3" height="28.81" fill="#000"/>
<rect x="213.05" y="2541.3" width="12.3" height="21.38" fill="#000"/>
<rect x="213.05" y="2657.37" width="12.3" height="21.38" fill="#000"/>
<rect x="213.05" y="2773.44" width="12.3" height="21.38" fill="#000"/>
<rect x="213.05" y="2889.51" width="12.3" height="21.38" fill="#000"/>
<rect x="213.05" y="3005.58" width="12.3" height="21.38" fill="#000"/>
<rect x="213.05" y="3121.65" width="12.3" height="21.38" fill="#000"/>
<line x1="200" y1="3243.6" x2="250" y2="3229.2" stroke="#000" stroke-width="6.6"/>
<line x1="200" y1="3258.6" x2="250" y2="3244.2" stroke="#000" stroke-width="6.6"/>
<line x1="504.35" y1="3420.9" x2="504.35" y2="3432.9" stroke="#000" stroke-width="7"/>
<line x1="783.35" y1="3420.9" x2="783.35" y2="3445.2" stroke="#000" stroke-width="7"/>
<line x1="1062.35" y1="3420.9" x2="1062.35" y2="3432.9" stroke="#000" stroke-width="7"/>
<line x1="1341.35" y1="3420.9" x2="1341.35" y2="3445.2" stroke="#000" stroke-width="7"/>
<line x1="1620.35" y1="3420.9" x2="1620.35" y2="3432.9" stroke="#000" stroke-width="7"/>
<line x1="1899.35" y1="3420.9" x2="1899.35" y2="3445.2" stroke="#000" stroke-width="7"/>
<text class="n" transform="translate(225.35 3505.5) scale(0.93 1)" font-size="53" text-anchor="middle">0</text>
<text class="n" transform="translate(783.35 3505.5) scale(0.93 1)" font-size="53" text-anchor="middle">20</text>
<text class="n" transform="translate(1341.35 3505.5) scale(0.93 1)" font-size="53" text-anchor="middle">40</text>
<text class="n" transform="translate(1899.35 3505.5) scale(0.93 1)" font-size="53" text-anchor="middle">60</text>
<text class="n" transform="translate(149.4 2564.3) scale(0.93 1)" font-size="53" text-anchor="end">10</text>
<text class="n s" transform="translate(149.6 2543) scale(1 1)" font-size="34.5">10</text>
<text class="n" transform="translate(166.65 2680.37) scale(0.93 1)" font-size="53" text-anchor="end">10</text>
<text class="n s" transform="translate(166.85 2659.07) scale(1 1)" font-size="34.5">9</text>
<text class="n" transform="translate(166.65 2796.44) scale(0.93 1)" font-size="53" text-anchor="end">10</text>
<text class="n s" transform="translate(166.85 2775.14) scale(1 1)" font-size="34.5">8</text>
<text class="n" transform="translate(166.65 2912.51) scale(0.93 1)" font-size="53" text-anchor="end">10</text>
<text class="n s" transform="translate(166.85 2891.21) scale(1 1)" font-size="34.5">7</text>
<text class="n" transform="translate(166.65 3028.58) scale(0.93 1)" font-size="53" text-anchor="end">10</text>
<text class="n s" transform="translate(166.85 3007.28) scale(1 1)" font-size="34.5">6</text>
<text class="n" transform="translate(166.65 3144.65) scale(0.93 1)" font-size="53" text-anchor="end">10</text>
<text class="n s" transform="translate(166.85 3123.35) scale(1 1)" font-size="34.5">5</text>
<text class="n" transform="translate(166.65 3359.1) scale(0.93 1)" font-size="53" text-anchor="end">10</text>
<text class="n s" transform="translate(166.85 3337.8) scale(1 1)" font-size="34.5">1</text>
<text class="n" transform="translate(166.65 3443.5) scale(0.93 1)" font-size="53" text-anchor="end">10</text>
<text class="n s" transform="translate(166.85 3422.2) scale(1 1)" font-size="34.5">0</text>
<text transform="translate(769 3572) scale(0.8556 1)" font-size="61.14">Base plate number</text>
<text transform="translate(80.9 3278.1) rotate(-90) scale(0.8556 1)" font-size="61.14" dx="0 0 0 0 0 0 0 0 0 0 0 0 0 0 0 6.19 -6.19 0 0 0 -5.96">Base plate life(year)</text>
<polyline points="253.25,2858.8 281.15,2790 309.05,2711 336.95,2614 364.85,2614.8 392.75,2859.2 420.65,2790 448.55,2711 476.45,2648 504.35,2648 532.25,2859.2 560.15,2790 588.05,2711 615.95,2648 643.85,2648 671.75,2912 699.65,2777.2 727.55,2741.2 755.45,2688.8 783.35,2689.2 811.25,2706 839.15,2652 867.05,3214 894.95,3102 922.85,2988 950.75,2856.8 978.65,2821.2 1006.55,2666.8 1034.45,2661.2 1062.35,2597.2 1090.25,2654 1118.15,2695.2 1146.05,3188 1173.95,3108 1201.85,2976 1229.75,2896 1257.65,2848 1285.55,2774.8 1313.45,2729.2 1341.35,2859.2 1369.25,2790 1397.15,2711 1425.05,2648 1452.95,2648 1480.85,2859.2 1508.75,2790 1536.65,2713 1564.55,2652.8 1592.45,2653.6 1620.35,2859.2 1648.25,2790 1676.15,2714 1704.05,2639.2 1731.95,2639.2" fill="none" stroke="#515151" stroke-width="4" stroke-linejoin="round" stroke-linecap="round"/>
<text transform="translate(255 2565) scale(0.8576 1)" font-size="48.14">Simply supported</text>
<text transform="translate(342.5 2620) scale(0.8576 1)" font-size="48.14">beam side</text>
<text transform="translate(690.6 2565.2) scale(0.8576 1)" font-size="48.14">Continuous beam</text>
<text transform="translate(828.3 2620.2) scale(0.8576 1)" font-size="48.14">side</text>
<text transform="translate(1336 2567) scale(0.8576 1)" font-size="48.14">Simply supported</text>
<text transform="translate(1422 2621.5) scale(0.8576 1)" font-size="48.14">beam side</text>
<line x1="671.7" y1="2583" x2="671.7" y2="2806" stroke="#000" stroke-width="2.3" stroke-dasharray="8.5 6.1"/>
<line x1="1313.8" y1="2584.5" x2="1313.8" y2="2729" stroke="#000" stroke-width="2.3" stroke-dasharray="8.5 6.1"/>
<line x1="595" y1="2611" x2="750" y2="2611" stroke="#000" stroke-width="2.5"/>
<polygon points="576,2611 610,2602.5 610,2619.5" fill="#000"/>
<polygon points="767.6,2611 733.6,2602.5 733.6,2619.5" fill="#000"/>
<line x1="1313.8" y1="2612.8" x2="1395" y2="2612.8" stroke="#000" stroke-width="2.5"/>
<polygon points="1410,2612.8 1376,2604.3 1376,2621.3" fill="#000"/>
</g>
<text class="cap" x="931.8" y="3696.2" font-size="86" letter-spacing="-0.7">(<tspan class="b">c</tspan>)</text>
</svg>
</body>
</html>
